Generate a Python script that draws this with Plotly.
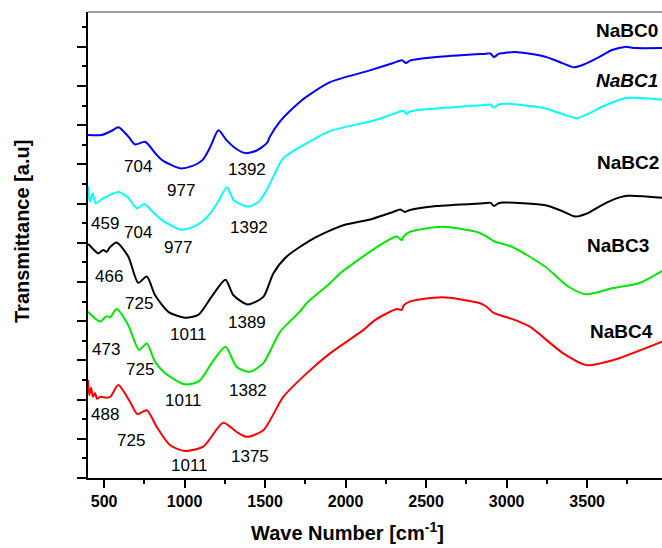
import plotly.graph_objects as go

# ---- data (wave number [cm-1], transmittance [a.u.]) ----
wn_0 = [400, 485, 548, 589, 651, 693, 755, 819, 860, 975, 1040, 1111, 1160, 1210, 1260, 1320, 1375, 1445,
        1512, 1530, 1593, 1717, 1758, 1903, 2151, 2296, 2350, 2375, 2400, 2567, 2854, 2900, 2921, 2950,
        2978, 3052, 3240, 3350, 3418, 3480, 3574, 3655, 3735, 3800, 3965]
T_0 = [8.75, 8.75, 8.86, 8.95, 8.71, 8.51, 8.58, 8.28, 8.11, 7.90, 7.95, 8.11, 8.45, 8.87, 8.62, 8.40, 8.29, 8.35,
       8.55, 8.71, 9.10, 9.60, 9.73, 10.10, 10.40, 10.59, 10.66, 10.59, 10.65, 10.74, 10.82, 10.83, 10.74, 10.82,
       10.84, 10.87, 10.75, 10.58, 10.48, 10.55, 10.74, 10.92, 11.00, 10.97, 10.97]

wn_1 = [400, 411, 429, 448, 496, 589, 650, 703, 750, 800, 860, 973, 1050, 1108, 1160, 1208, 1263, 1305, 1350,
        1396, 1460, 1510, 1551, 1613, 1758, 1903, 2183, 2296, 2359, 2380, 2400, 2565, 2866, 2900, 2921, 2950,
        3001, 3240, 3350, 3437, 3500, 3592, 3737, 3965]
T_1 = [7.45, 7.05, 7.26, 7.01, 7.14, 7.30, 7.15, 6.88, 6.99, 6.80, 6.58, 6.34, 6.40, 6.54, 6.75, 7.05, 7.42, 7.09, 6.98,
       6.92, 7.05, 7.35, 7.69, 8.16, 8.54, 8.85, 9.13, 9.29, 9.37, 9.29, 9.35, 9.43, 9.52, 9.53, 9.45, 9.53,
       9.55, 9.43, 9.28, 9.18, 9.28, 9.47, 9.69, 9.65]

wn_2 = [402, 430, 464, 495, 516, 537, 578, 650, 712, 765, 816, 899, 1002, 1085, 1168, 1254, 1302, 1391, 1489,
        1551, 1634, 1799, 1986, 2164, 2296, 2338, 2369, 2400, 2565, 2856, 2900, 2921, 2950, 2980, 3240, 3340,
        3427, 3500, 3572, 3655, 3748, 3965]
T_2 = [5.97, 5.85, 5.73, 5.82, 5.77, 5.89, 6.01, 5.65, 4.98, 5.14, 4.67, 4.24, 4.09, 4.16, 4.63, 5.06, 4.67, 4.43, 4.62,
       5.22, 5.65, 6.11, 6.45, 6.61, 6.79, 6.85, 6.79, 6.84, 6.94, 7.01, 7.02, 6.94, 7.01, 7.03, 6.96, 6.82,
       6.67, 6.75, 6.92, 7.09, 7.20, 7.15]

wn_3 = [400, 475, 516, 537, 578, 650, 717, 765, 816, 878, 1002, 1090, 1168, 1254, 1322, 1406, 1489, 1593,
        1717, 1758, 1903, 1965, 2183, 2317, 2349, 2359, 2399, 2597, 2814, 2876, 2928, 3033, 3240, 3385,
        3493, 3655, 3821, 3965]
T_3 = [4.24, 3.99, 4.13, 4.10, 4.31, 3.90, 3.27, 3.43, 2.97, 2.68, 2.39, 2.47, 2.93, 3.35, 2.84, 2.71, 2.93, 3.73,
       4.25, 4.46, 4.97, 5.22, 5.86, 6.16, 6.07, 6.16, 6.28, 6.41, 6.28, 6.16, 6.03, 5.90, 5.39, 4.88,
       4.69, 4.84, 4.97, 5.28]

wn_4 = [400, 408, 419, 431, 444, 456, 475, 516, 541, 588, 660, 707, 765, 826, 909, 1002, 1116, 1240, 1322,
        1385, 1489, 1613, 1758, 1903, 2111, 2183, 2317, 2349, 2360, 2399, 2598, 2835, 2876, 2917, 3052,
        3144, 3352, 3496, 3662, 3965]
T_4 = [2.50, 2.12, 2.30, 2.07, 2.17, 2.02, 2.07, 2.05, 2.08, 2.37, 1.95, 1.63, 1.73, 1.31, 0.84, 0.69, 0.80, 1.41, 1.18,
       1.05, 1.22, 2.07, 2.67, 3.18, 3.78, 4.03, 4.31, 4.29, 4.40, 4.50, 4.61, 4.46, 4.37, 4.22, 4.03,
       3.86, 3.18, 2.88, 3.01, 3.48]

series_names = ["NaBC0", "NaBC1", "NaBC2", "NaBC3", "NaBC4"]
series_colors = ["#0000ff", "#00ffff", "#000000", "#00e600", "#ff0000"]

# series label positions (wn, T)
label_x = [3748, 3748, 3756, 3694, 3712]
label_y = [11.42, 10.13, 8.06, 5.94, 3.73]
label_text = ["<b>NaBC0</b>", "<b><i>NaBC1</i></b>", "<b>NaBC2</b>", "<b>NaBC3</b>", "<b>NaBC4</b>"]

# peak annotations
peak_text = ["704", "977", "1392", "459", "704", "977", "1392", "466", "725", "1011", "1389",
             "473", "725", "1011", "1382", "488", "725", "1011", "1375"]
peak_x = [709, 979, 1386, 506, 709, 959, 1402, 532, 719, 1025, 1388,
          510, 723, 994, 1394, 506, 665, 1032, 1404]
peak_y = [7.94, 7.33, 7.87, 6.50, 6.26, 5.89, 6.40, 5.14, 4.46, 3.65, 3.97,
          3.28, 2.77, 1.97, 2.23, 1.62, 0.95, 0.33, 0.56]

FONT = "Liberation Sans, Arial, Helvetica, sans-serif"

fig = go.Figure()
all_x = [wn_0, wn_1, wn_2, wn_3, wn_4]
all_y = [T_0, T_1, T_2, T_3, T_4]
for xs, ys, name, col in zip(all_x, all_y, series_names, series_colors):
    fig.add_trace(go.Scatter(x=xs, y=ys, mode="lines", name=name,
                             line=dict(color=col, width=2, shape="spline", smoothing=0.7),
                             showlegend=False, hoverinfo="skip"))

for x, y, t in zip(label_x, label_y, label_text):
    fig.add_annotation(x=x, y=y, text=t, showarrow=False, xanchor="center", yanchor="middle",
                       font=dict(family=FONT, size=19, color="black"))

for x, y, t in zip(peak_x, peak_y, peak_text):
    fig.add_annotation(x=x, y=y, text=t, showarrow=False, xanchor="center", yanchor="middle",
                       font=dict(family=FONT, size=17, color="black"))

# axis titles
fig.add_annotation(xref="paper", yref="paper", x=(347 - 88) / 574, y=(478 - 531) / 466,
                   text="<b>Wave Number [cm<sup>-1</sup>]</b>", showarrow=False,
                   xanchor="center", yanchor="middle", font=dict(family=FONT, size=20, color="black"))
fig.add_annotation(xref="paper", yref="paper", x=(22 - 88) / 574, y=(478 - 232) / 466,
                   text="<b>Transmittance [a.u]</b>", showarrow=False, textangle=-90,
                   xanchor="center", yanchor="middle", font=dict(family=FONT, size=20, color="black"))

# top border (gray)
fig.add_shape(type="line", xref="paper", yref="paper", x0=0, x1=1, y0=1, y1=1,
              line=dict(color="#7f7f7f", width=1.5))

fig.update_layout(
    width=662, height=548,
    margin=dict(l=88, r=0, t=12, b=70),
    paper_bgcolor="white", plot_bgcolor="white",
    font=dict(family=FONT, color="black"),
)
fig.update_xaxes(range=[400, 3965], showgrid=False, zeroline=False,
                 showline=True, linecolor="black", linewidth=2,
                 ticks="outside", ticklen=8, tickwidth=2, tickcolor="black",
                 tick0=0, dtick=500,
                 tickfont=dict(family=FONT, size=16, color="black", weight="bold"),
                 minor=dict(dtick=250, tick0=0, ticks="outside", ticklen=4, tickwidth=2, tickcolor="black"))
fig.update_yaxes(range=[0, 11.89], showgrid=False, zeroline=False,
                 showline=True, linecolor="black", linewidth=2,
                 ticks="outside", ticklen=9, tickwidth=2, tickcolor="black",
                 tick0=0, dtick=1, showticklabels=False,
                 minor=dict(dtick=0.5, tick0=0, ticks="outside", ticklen=4, tickwidth=2, tickcolor="black"))

fig.write_html("out.html")
